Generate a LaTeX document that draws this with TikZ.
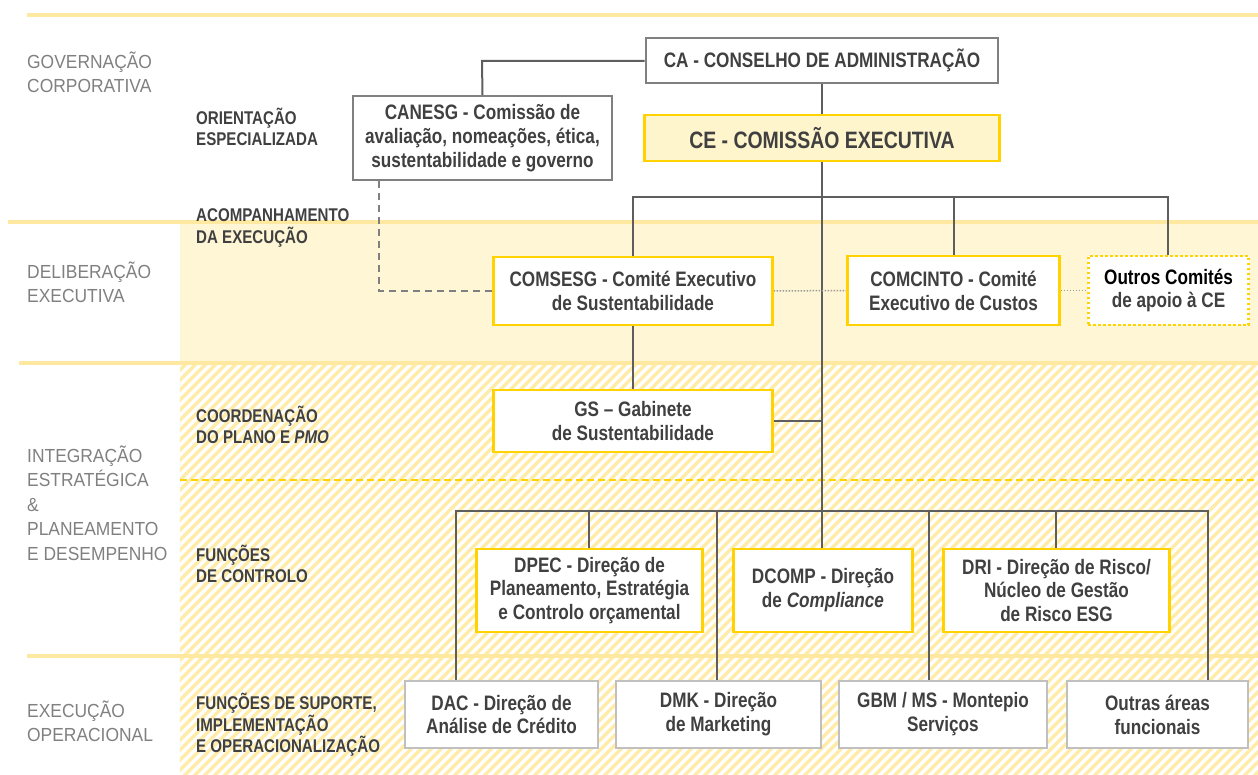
\documentclass[tikz,border=0pt]{standalone}
\usepackage{fontspec}
\setmainfont{Liberation Sans}
\newfontfamily\nrw[FakeStretch=0.82]{Liberation Sans}
\newfontfamily\lvl[FakeStretch=0.92]{Liberation Sans}
\definecolor{bandline}{HTML}{FFE9A0}
\definecolor{bandfill}{HTML}{FFF6D5}
\definecolor{hatchc}{HTML}{FFECA8}
\definecolor{gold}{HTML}{FFD200}
\definecolor{conn}{HTML}{5E5E5E}
\definecolor{txt}{HTML}{404040}
\definecolor{lbl}{HTML}{808080}
\definecolor{gbord}{HTML}{808080}
\definecolor{lgbord}{HTML}{C0C0C0}
\definecolor{cefill}{HTML}{FFF5CC}
\pgfdeclarelayer{bglayer}
\pgfdeclarelayer{connlayer}
\pgfsetlayers{bglayer,connlayer,main}
\tikzset{
  boxtext/.style={font=\nrw\bfseries\fontsize{21}{24}\selectfont, text=txt, align=center, inner sep=0pt, fill=white},
  graybox/.style={boxtext, draw=gbord, line width=2bp},
  goldbox/.style={boxtext, draw=gold, line width=2.5bp},
  lightbox/.style={boxtext, draw=lgbord, line width=2bp},
  dotbox/.style={boxtext, draw=gold, line width=2.5bp, dash pattern=on 2.5bp off 2.5bp},
  levellabel/.style={font=\lvl\fontsize{19}{24.5}\selectfont, text=lbl, align=left, inner sep=0pt, anchor=west},
  sublabel/.style={font=\nrw\bfseries\fontsize{18.5}{21.5}\selectfont, text=txt, align=left, inner sep=0pt, anchor=west},
  bandrule/.style={draw=bandline, line width=4bp},
  conn/.style={draw=conn, line width=2bp},
  dashconn/.style={draw=gbord, line width=2bp, dash pattern=on 7bp off 5bp},
  dotconn/.style={draw=gbord!80, line width=1.5bp, dash pattern=on 1.5bp off 1.5bp},
  hatch/.style={draw=hatchc, line width=3.5bp},
}
\begin{document}
\begin{tikzpicture}[x=1bp,y=-1bp]
\useasboundingbox (0,0) rectangle (1258,775);
\begin{pgfonlayer}{bglayer}
\fill[bandfill] (180,222) rectangle (1258,363);
\begin{scope}
  \clip (180,363) rectangle (1258,775);
  \foreach \i in {0,...,152} {
    \draw[hatch] ({-240+10*\i},780) -- ({-240+10*\i+420},360);
  }
\end{scope}
\draw[bandrule] (27,15) -- (1258,15);
\draw[bandrule] (8,222) -- (1258,222);
\draw[bandrule] (19,363) -- (1258,363);
\draw[bandrule] (27,656) -- (1258,656);
\draw[draw=gold, line width=2bp, dash pattern=on 7bp off 4bp] (180,480) -- (1258,480);
\end{pgfonlayer}

% level labels
\node[levellabel] (lgov) at (27,72) {GOVERNAÇÃO\\CORPORATIVA};
\node[levellabel] (ldel) at (27,282) {DELIBERAÇÃO\\EXECUTIVA};
\node[levellabel] (lint) at (27,503) {INTEGRAÇÃO\\ESTRATÉGICA\\\&\\PLANEAMENTO\\E DESEMPENHO};
\node[levellabel] (lexe) at (27,721) {EXECUÇÃO\\OPERACIONAL};

\node[sublabel] (sori) at (196,127) {ORIENTAÇÃO\\ESPECIALIZADA};
\node[sublabel] (sacp) at (196,228) {ACOMPANHAMENTO\\DA EXECUÇÃO};
\node[sublabel] (scoo) at (196,425) {COORDENAÇÃO\\DO PLANO E \textit{PMO}};
\node[sublabel] (sfun) at (196,564) {FUNÇÕES\\DE CONTROLO};
\node[sublabel] (ssup) at (196,725) {FUNÇÕES DE SUPORTE,\\IMPLEMENTAÇÃO\\E OPERACIONALIZAÇÃO};

% coordinates for connectors
\coordinate (busA) at (633,197);
\coordinate (busB) at (1168,197);
\coordinate (busC) at (456,511);
\coordinate (busD) at (1208,511);
\coordinate (trunkTop) at (822,197);
\coordinate (gsJ) at (822,421);
\coordinate (caJ) at (482,61);
\coordinate (dashTop) at (379,180);
\coordinate (dashCorner) at (379,291);
\coordinate (dDPEC) at (589,511);
\coordinate (dDMK) at (717,511);
\coordinate (dGBM) at (929,511);
\coordinate (dDRI) at (1056,511);
\coordinate (dCOMC) at (954,197);

% nodes
\node[graybox, minimum width=354, minimum height=45] (ca) at (822,60.5) {CA - CONSELHO DE ADMINISTRAÇÃO};
\node[graybox, minimum width=259, minimum height=84] (canesg) at (482.5,138) {CANESG - Comissão de\\avaliação, nomeações, ética,\\sustentabilidade e governo};
\node[goldbox, fill=cefill, minimum width=356, minimum height=46, font=\nrw\bfseries\fontsize{23.8}{26}\selectfont] (ce) at (822,138) {CE - COMISSÃO EXECUTIVA};
\node[goldbox, minimum width=280, minimum height=68] (comsesg) at (633,291) {COMSESG - Comité Executivo\\de Sustentabilidade};
\node[goldbox, minimum width=213, minimum height=69] (comcinto) at (953.5,290.5) {COMCINTO - Comité\\Executivo de Custos};
\node[dotbox, minimum width=161, minimum height=69] (outros) at (1168.5,290.5) {\textcolor{black}{Outros Comités}\\de apoio à CE};
\node[goldbox, minimum width=280, minimum height=62] (gs) at (633,421) {GS – Gabinete\\de Sustentabilidade};
\node[goldbox, minimum width=227, minimum height=83] (dpec) at (589.5,590.5) {DPEC - Direção de\\Planeamento, Estratégia\\e Controlo orçamental};
\node[goldbox, minimum width=180, minimum height=83] (dcomp) at (823,590.5) {DCOMP - Direção\\de \textit{Compliance}};
\node[goldbox, minimum width=227, minimum height=83] (dri) at (1056.5,590.5) {DRI - Direção de Risco/\\Núcleo de Gestão\\de Risco ESG};
\node[lightbox, minimum width=193, minimum height=67] (dac) at (501.5,714.5) {DAC - Direção de\\Análise de Crédito};
\node[lightbox, minimum width=205, minimum height=67] (dmk) at (718.5,714.5) {DMK - Direção\\de Marketing};
\node[lightbox, minimum width=208, minimum height=67] (gbm) at (943,714.5) {GBM / MS - Montepio\\Serviços};
\node[lightbox, minimum width=181, minimum height=67] (outras) at (1157.5,714.5) {Outras áreas\\funcionais};

% connectors
\begin{pgfonlayer}{connlayer}
\draw[conn] (ca.west |- caJ) -- (caJ) -- (canesg.north);
\draw[conn] (ca.south -| trunkTop) -- (ce.north -| trunkTop);
\draw[conn] (ce.south -| trunkTop) -- (dcomp.north -| trunkTop);
\draw[conn] (comsesg.north -| busA) -- (busA) -- (busB) -- (outros.north -| busB);
\draw[conn] (dCOMC) -- (comcinto.north -| dCOMC);
\draw[conn] (comsesg.south) -- (gs.north);
\draw[conn] (gs.east |- gsJ) -- (gsJ);
\draw[conn] (dac.north -| busC) -- (busC) -- (busD) -- (outras.north -| busD);
\draw[conn] (dDPEC) -- (dpec.north -| dDPEC);
\draw[conn] (dDMK) -- (dmk.north -| dDMK);
\draw[conn] (dGBM) -- (gbm.north -| dGBM);
\draw[conn] (dDRI) -- (dri.north -| dDRI);
\draw[dashconn] (canesg.south -| dashTop) -- (dashCorner) -- (comsesg.west |- dashCorner);
\draw[dotconn] (comsesg.east) -- (comcinto.west);
\draw[dotconn] (comcinto.east) -- (outros.west);
\end{pgfonlayer}
\end{tikzpicture}
\end{document}
